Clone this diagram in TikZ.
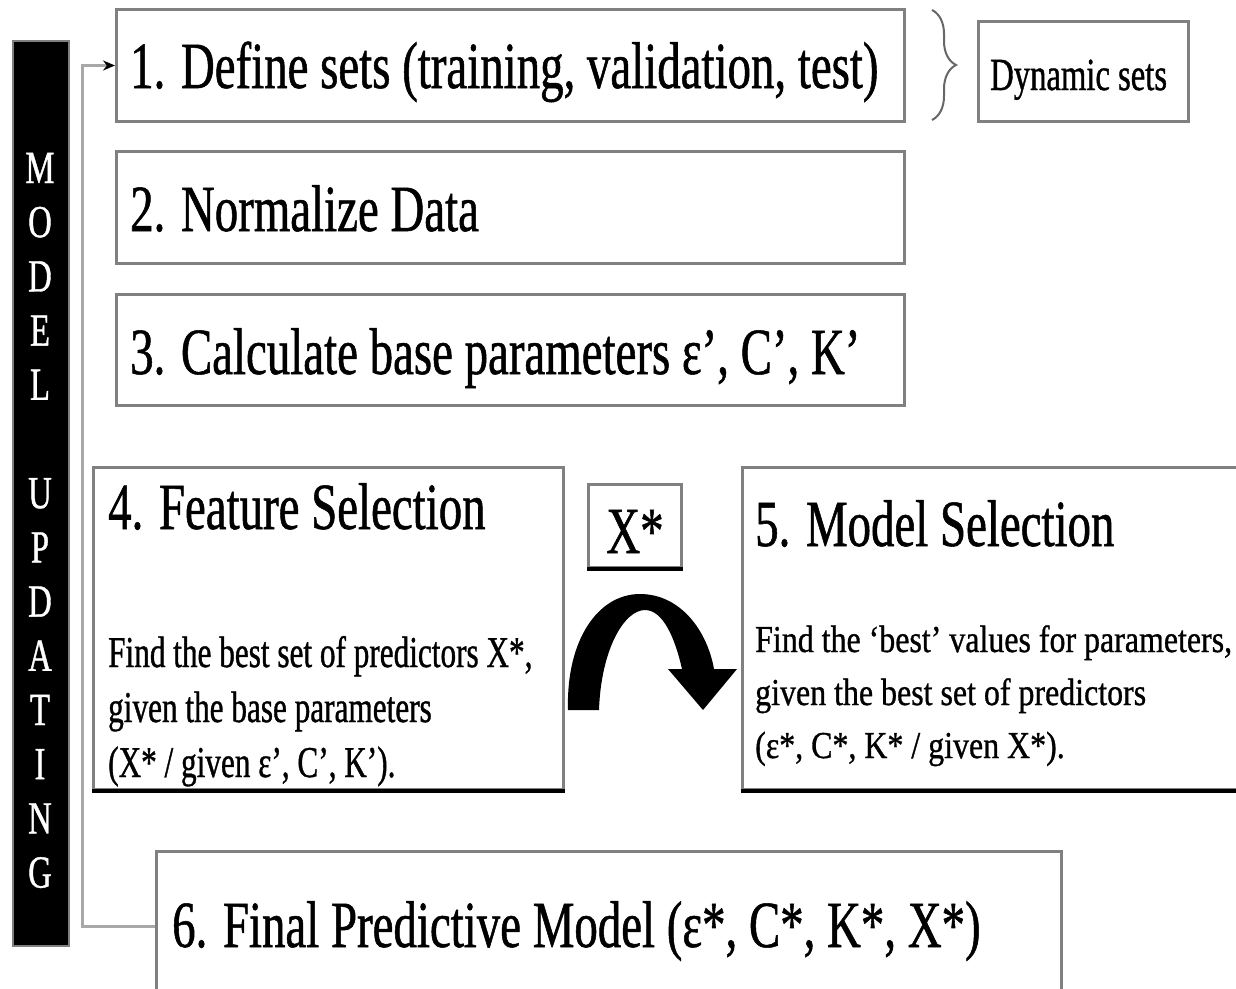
\documentclass[tikz,border=0pt]{standalone}
\usepackage{fontspec}
\setmainfont{Liberation Serif}
\newfontfamily\cond[FakeStretch=0.71,FakeBold=0.8]{Liberation Serif}
\newfontfamily\condw[FakeStretch=0.84,FakeBold=0.8]{Liberation Serif}
\usetikzlibrary{decorations.pathreplacing,arrows.meta}
\definecolor{boxgray}{HTML}{808080}
\definecolor{linegray}{HTML}{A8A8A8}
\tikzset{
  box/.style={draw=boxgray, line width=3pt, inner sep=0pt, anchor=north west, fill=white},
  head/.style={font=\cond\fontsize{66}{66}\selectfont, inner sep=0pt, anchor=base west},
  body/.style={font=\cond\fontsize{44}{55}\selectfont, inner sep=0pt, anchor=base west},
  bodyw/.style={font=\condw\fontsize{38}{52}\selectfont, inner sep=0pt, anchor=base west},
  letter/.style={font=\cond\fontsize{46}{46}\selectfont, text=white, inner sep=0pt, anchor=base},
  edge/.style={draw=black, line width=4pt},
  conn/.style={draw=linegray, line width=3pt, -{Stealth[length=12pt,width=10pt,black]}}
}
\begin{document}
\begin{tikzpicture}[x=1pt,y=-1pt]
\useasboundingbox (0,0) rectangle (1236,988);
\clip (0,0) rectangle (1236,988);

% vertical banner
\node[draw=boxgray, fill=black, line width=2pt, inner sep=0pt, anchor=north west,
      minimum width=56pt, minimum height=905pt] (bar) at (12,40) {};
\foreach \ch/\k in {M/0,O/1,D/2,E/3,L/4,U/6,P/7,D/8,A/9,T/10,I/11,N/12,G/13}
  \node[letter] (ltr\k) at (40,{183+54.2*\k}) {\ch};

% process boxes
\node[box, minimum width=788pt, minimum height=112pt] (b1) at (115,8) {};
\node[box, minimum width=788pt, minimum height=112pt] (b2) at (115,150) {};
\node[box, minimum width=788pt, minimum height=111pt] (b3) at (115,293) {};
\node[box, minimum width=470pt, minimum height=322pt] (b4) at (92,466) {};
\node[box, minimum width=520pt, minimum height=322pt] (b5) at (741,466) {};
\node[box, minimum width=905pt, minimum height=150pt] (b6) at (155,850) {};
\node[box, minimum width=210pt, minimum height=100pt] (ds) at (977,20) {};
\node[box, minimum width=93pt, minimum height=83pt] (xs) at (587,483) {};

\draw[edge] (b4.south west) -- (b4.south east);
\draw[edge] (b5.south west) -- (b5.south east);
\draw[edge] (xs.south west) -- (xs.south east);

% texts
\node[head] (t1) at (130,88) {1. Define sets (training, validation, test)};
\node[head] (t2) at (130,231) {2. Normalize Data};
\node[head] (t3) at (130,374) {3. Calculate base parameters ε’, C’, K’};
\node[head] (t4) at (108,529) {4. Feature Selection};
\node[head] (t5) at (755,546) {5. Model Selection};
\node[head] (t6) at (172,947) {6. Final Predictive Model (ε*, C*, K*, X*)};
\node[head, anchor=base] (tx) at (xs.center |- 0,553) {X*};
\node[font=\cond\fontsize{46}{46}\selectfont, inner sep=0pt, anchor=base west] (tds) at (990,90) {Dynamic sets};

\node[body] (b4l1) at (108,667) {Find the best set of predictors X*,};
\node[body] (b4l2) at (108,722) {given the base parameters};
\node[body] (b4l3) at (108,777) {(X* / given ε’, C’, K’).};

\node[bodyw] (b5l1) at (755,652) {Find the ‘best’ values for parameters,};
\node[bodyw] (b5l2) at (755,705) {given the best set of predictors};
\node[bodyw] (b5l3) at (755,758) {(ε*, C*, K* / given X*).};

% brace grouping the sets
\draw[boxgray!80!black, line width=2pt, decorate, decoration={brace, amplitude=24pt}]
  (932,10) -- (932,120);

% feedback connector
\draw[conn] (b6.west) -- ++(-73,0) |- (b1.west);

% curved transfer arrow
\fill[black] (568,710) .. controls (566,640) and (598,594) .. (640,594)
  .. controls (680,594) and (707,630) .. (714,669)
  -- (737,669) -- (703,710) -- (668,669) -- (682,669)
  .. controls (675,638) and (663,610) .. (645,610)
  .. controls (624,610) and (601,650) .. (599,710) -- cycle;
\end{tikzpicture}
\end{document}
